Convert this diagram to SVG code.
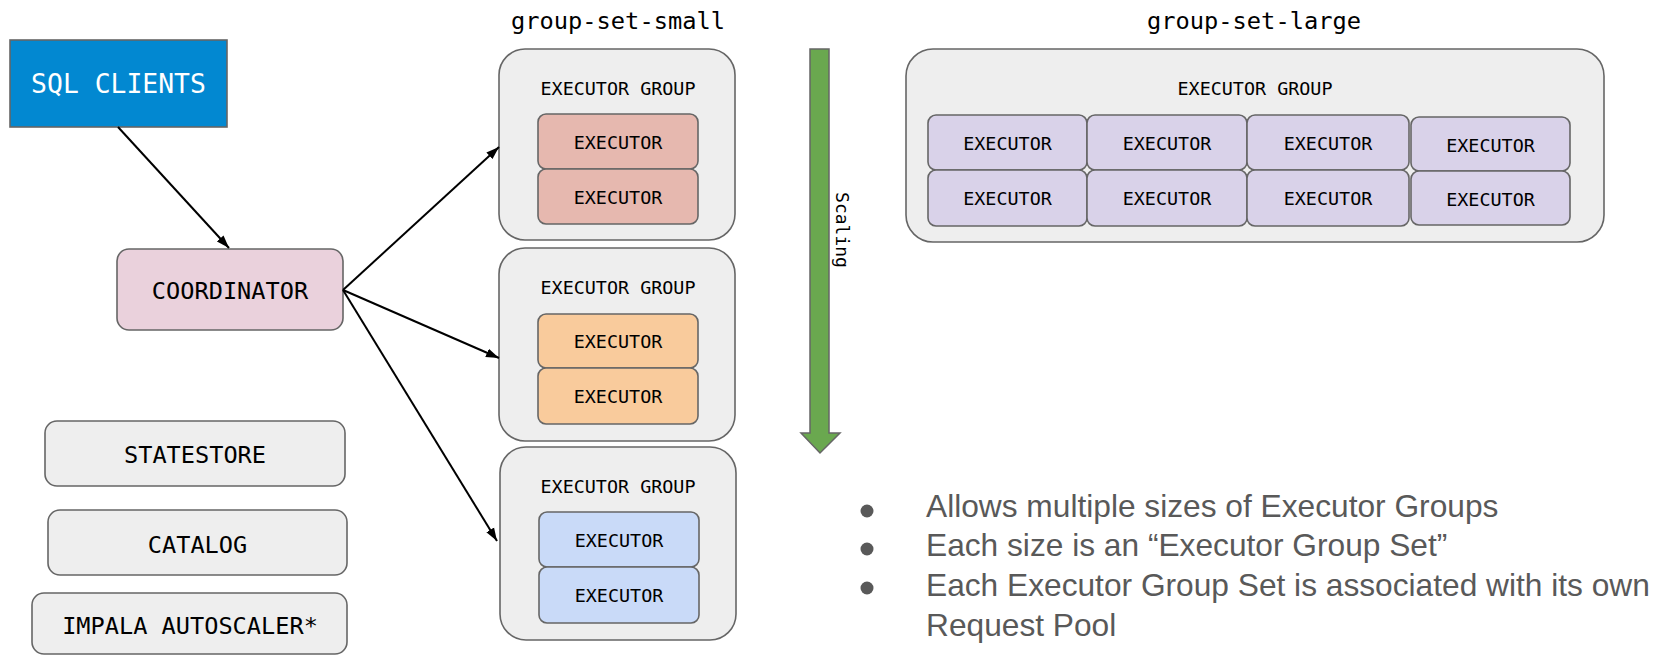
<svg xmlns="http://www.w3.org/2000/svg" width="1659" height="655" viewBox="0 0 1659 655">
<defs>
<marker id="ah" markerUnits="userSpaceOnUse" markerWidth="14" markerHeight="10" refX="13" refY="5" orient="auto">
<path d="M0,0.5 L13,5 L0,9.5 z" fill="#000"/>
</marker>
<style>
.box{stroke:#666666;stroke-width:1.6}
.grp{fill:#eeeeee;stroke:#666666;stroke-width:1.6}
.m{font-family:"DejaVu Sans Mono","Liberation Mono",monospace;text-anchor:middle;fill:#000}
.ex{font-size:18.4px}
.lg{font-size:23.6px}
.conn{stroke:#000;stroke-width:2;fill:none;marker-end:url(#ah)}
.red{fill:#e6b8af}
.org{fill:#f9cb9c}
.blu{fill:#c9daf8}
.pur{fill:#d9d2e9}
.bul{font-family:"Liberation Sans",Arial,sans-serif;font-size:31.7px;fill:#595959}
</style>
</defs>
<rect width="1659" height="655" fill="#ffffff"/>

<g id="sql-clients">
<rect class="box" x="10" y="40" width="217" height="87" fill="#0288d1"/>
<text class="m" x="118.5" y="93" style="font-size:26.4px;fill:#ffffff">SQL CLIENTS</text>
</g>

<g id="coordinator">
<rect class="box" x="117" y="249" width="226" height="81" rx="12" fill="#ead1dc"/>
<text class="m lg" x="230" y="299">COORDINATOR</text>
</g>

<g id="statestore">
<rect class="box" x="45" y="421" width="300" height="65" rx="12" fill="#eeeeee"/>
<text class="m lg" x="195" y="463">STATESTORE</text>
</g>
<g id="catalog">
<rect class="box" x="48" y="510" width="299" height="65" rx="12" fill="#eeeeee"/>
<text class="m lg" x="197.5" y="553">CATALOG</text>
</g>
<g id="impala-autoscaler">
<rect class="box" x="32" y="593" width="315" height="61" rx="12" fill="#eeeeee"/>
<text class="m lg" x="190" y="634">IMPALA AUTOSCALER*</text>
</g>

<text class="m" x="618" y="29" style="font-size:23.7px">group-set-small</text>
<text class="m" x="1254" y="29" style="font-size:23.7px">group-set-large</text>

<g id="group-small-1">
<rect class="grp" x="499" y="49" width="236" height="191" rx="26"/>
<text class="m ex" x="618" y="95">EXECUTOR GROUP</text>
<rect class="box red" x="538" y="114" width="160" height="55" rx="8"/>
<text class="m ex" x="618" y="149">EXECUTOR</text>
<rect class="box red" x="538" y="169" width="160" height="55" rx="8"/>
<text class="m ex" x="618" y="204">EXECUTOR</text>
</g>

<g id="group-small-2">
<rect class="grp" x="499" y="248" width="236" height="193" rx="26"/>
<text class="m ex" x="618" y="294">EXECUTOR GROUP</text>
<rect class="box org" x="538" y="314" width="160" height="54" rx="8"/>
<text class="m ex" x="618" y="348">EXECUTOR</text>
<rect class="box org" x="538" y="368" width="160" height="56" rx="8"/>
<text class="m ex" x="618" y="403">EXECUTOR</text>
</g>

<g id="group-small-3">
<rect class="grp" x="500" y="447" width="236" height="193" rx="26"/>
<text class="m ex" x="618" y="493">EXECUTOR GROUP</text>
<rect class="box blu" x="539" y="512" width="160" height="55" rx="8"/>
<text class="m ex" x="619" y="547">EXECUTOR</text>
<rect class="box blu" x="539" y="567" width="160" height="56" rx="8"/>
<text class="m ex" x="619" y="602">EXECUTOR</text>
</g>

<g id="group-large">
<rect class="grp" x="906" y="49" width="698" height="193" rx="27"/>
<text class="m ex" x="1255" y="95">EXECUTOR GROUP</text>
<rect class="box pur" x="928" y="115" width="159" height="55" rx="8"/>
<text class="m ex" x="1007.5" y="150">EXECUTOR</text>
<rect class="box pur" x="1087" y="115" width="160" height="55" rx="8"/>
<text class="m ex" x="1167" y="150">EXECUTOR</text>
<rect class="box pur" x="1247" y="115" width="162" height="55" rx="8"/>
<text class="m ex" x="1328" y="150">EXECUTOR</text>
<rect class="box pur" x="1411" y="117" width="159" height="54" rx="8"/>
<text class="m ex" x="1490.5" y="152">EXECUTOR</text>
<rect class="box pur" x="928" y="170" width="159" height="56" rx="8"/>
<text class="m ex" x="1007.5" y="205">EXECUTOR</text>
<rect class="box pur" x="1087" y="170" width="160" height="56" rx="8"/>
<text class="m ex" x="1167" y="205">EXECUTOR</text>
<rect class="box pur" x="1247" y="170" width="162" height="56" rx="8"/>
<text class="m ex" x="1328" y="205">EXECUTOR</text>
<rect class="box pur" x="1411" y="171" width="159" height="54" rx="8"/>
<text class="m ex" x="1490.5" y="206">EXECUTOR</text>
</g>

<g id="scaling-arrow">
<polygon points="810,49 829,49 829,433 840,433 820,453 801,433 810,433" fill="#6aa84f" stroke="#666666" stroke-width="1.5"/>
<text class="m" transform="translate(836,230) rotate(90)" x="0" y="0" style="font-size:18px">Scaling</text>
</g>

<g id="connectors">
<line class="conn" x1="118" y1="127" x2="229" y2="248"/>
<line class="conn" x1="343" y1="290" x2="499" y2="147"/>
<line class="conn" x1="343" y1="290" x2="499" y2="358"/>
<line class="conn" x1="343" y1="290" x2="497" y2="541"/>
</g>

<g id="bullets">
<circle cx="867" cy="511" r="6.5" fill="#595959"/>
<circle cx="867" cy="549" r="6.5" fill="#595959"/>
<circle cx="867" cy="588" r="6.5" fill="#595959"/>
<text class="bul" x="926" y="517">Allows multiple sizes of Executor Groups</text>
<text class="bul" x="926" y="556">Each size is an “Executor Group Set”</text>
<text class="bul" x="926" y="596">Each Executor Group Set is associated with its own</text>
<text class="bul" x="926" y="636">Request Pool</text>
</g>
</svg>
